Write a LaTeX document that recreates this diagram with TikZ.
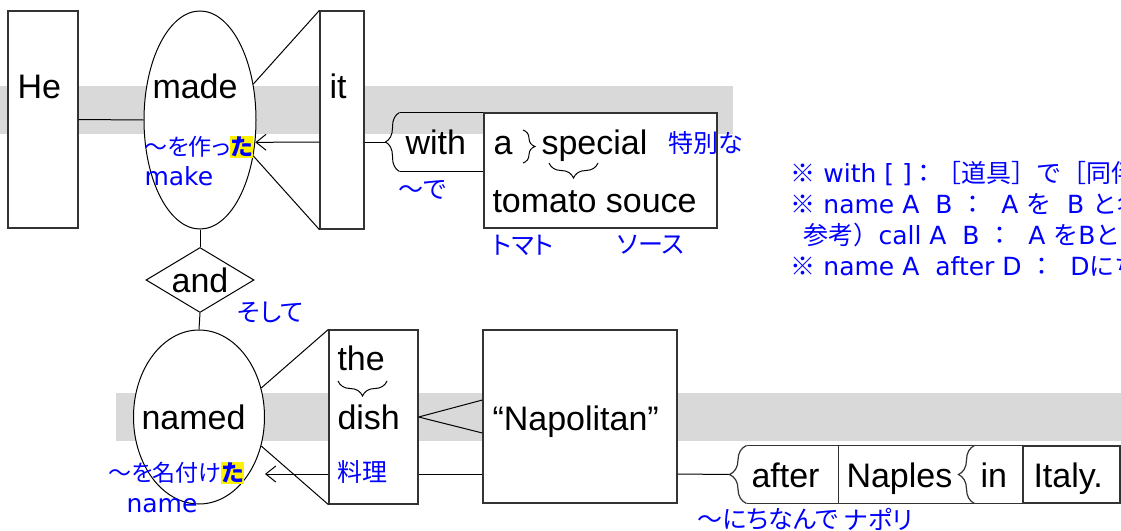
\documentclass[tikz,border=0pt]{standalone}
\usepackage{fontspec}
\setmainfont{Liberation Sans}
\newfontfamily\jafont{Noto Sans CJK JP}
\newfontfamily\japfont{Noto Sans CJK JP}[RawFeature=+palt]
\newfontfamily\lafont{DejaVu Sans}
\usetikzlibrary{shapes.geometric,decorations.pathreplacing,arrows.meta}
\newcommand\ja[1]{{\jafont #1}}
\newcommand\jap[1]{{\japfont #1}}
\newcommand\hlt[1]{{\setlength\fboxsep{0.5pt}\colorbox{yellow}{\bfseries #1}}}
\tikzset{
  box/.style={draw=black!80, fill=white, rectangle, inner sep=0, line width=1.2pt},
  oval/.style={draw, fill=white, ellipse, inner sep=0},
  word/.style={inner sep=0, anchor=base west, font=\fontsize{34}{40}\selectfont},
  gloss/.style={inner sep=0, anchor=west, text=blue, font=\fontsize{25}{30}\selectfont\lafont},
  note/.style={inner sep=0, anchor=base west, text=blue, font=\fontsize{25}{30}\selectfont\lafont},
  band/.style={fill=gray!30},
  curly/.style={decorate, decoration={brace, amplitude=#1}},
  barb/.style={-{Straight Barb[length=10pt,width=16pt]}}
}
\begin{document}
\begin{tikzpicture}[x=1pt,y=-1pt,line width=1pt]
 \clip (0,0) rectangle (1121,530);
 \fill[band] (0,86) rectangle (733,134);
 \fill[band] (116,393) rectangle (1121,441);

 % He made it with ...
 \node[box, minimum width=70pt, minimum height=217pt] (he) at (43,119.5) {};
 \node[word] (he-t) at (17,98) {He};
 \node[oval, minimum width=112pt, minimum height=218pt] (made) at (200,120) {};
 \node[word] (made-t) at (152,98) {made};
 \node[gloss, font=\fontsize{23}{28}\selectfont] (made-g) at (144,147) {\jap{～を作っ\hlt{た}}};
 \node[gloss, anchor=base west] (make-g) at (144,185) {make};
 \node[box, minimum width=44pt, minimum height=218pt] (it) at (342,120) {};
 \node[word] (it-t) at (329,98) {it};
 \draw (he.east) -- (made.west);
 \draw (it.north west) -- (made.34);
 \draw (it.south west) -- (made.-34);
 \draw[barb] ([yshift=-22pt]it.west) -- (made.-22);

 \node[rectangle, inner sep=0, minimum width=84pt, minimum height=58pt] (with) at (442,142) {};
 \draw ([yshift=-22pt]it.east) -- ([xshift=-14pt]with.west);
 \draw (with.north east) -- (with.north west) (with.south west) -- (with.south east);
 \draw[curly=14pt] (with.south west) -- (with.north west);
 \node[word] (with-t) at (405,154) {with};
 \node[gloss] (with-g) at (398,190) {\jap{～で}};

 \node[box, minimum width=233pt, minimum height=115pt] (sauce) at (600.5,170.5) {};
 \node[word] (a-t) at (493,154) {a};
 \draw[curly=12pt] (523,130) -- (523,163);
 \node[word] (special-t) at (541,154) {special};
 \draw[curly=15pt] (598,163) -- (549,163);
 \node[word] (tomato-t) at (492,212) {tomato souce};
 \node[gloss] (special-g) at (668,143) {\jap{特別な}};
 \node[gloss] (tomato-g) at (492,245) {\jap{トマト}};
 \node[gloss] (souce-g) at (617,245) {\jap{ソース}};

 % notes
 \node[note] (note1) at (790,182) {\ja{※} with [ ]\ja{：［道具］で［同伴}};
 \node[note] (note2) at (790,213) {\ja{※} name A\ \ B \ja{：}\ \ A \ja{を}\ \ B \ja{と名}};
 \node[note] (note3) at (803,244) {\ja{参考）}call A\ \ B \ja{：}\ \ A \ja{を}B\ja{と}};
 \node[note] (note4) at (790,275) {\ja{※} name A\ \ after D \ja{：}\ \ D\ja{にち}};

 % and named the dish ...
 \node[diamond, draw, fill=white, aspect=1.66, minimum width=108pt, minimum height=65pt, inner sep=0, font=\fontsize{34}{40}\selectfont] (and) at (200,280) {and};
 \node[gloss] (and-g) at (237,312) {\jap{そして}};
 \node[oval, minimum width=131pt, minimum height=174pt] (named) at (199,417) {};
 \draw (made.south) -- (and.north);
 \draw (and.south) -- (named.north);
 \node[word] (named-t) at (141,429) {named};
 \node[gloss, font=\fontsize{23}{28}\selectfont] (named-g) at (108,473) {\jap{～を名付け\hlt{た}}};
 \node[gloss, anchor=base west] (name-g) at (126,512) {name};

 \node[box, minimum width=89pt, minimum height=174pt] (dish) at (373.5,417) {};
 \node[word] (the-t) at (337,370) {the};
 \draw[curly=15pt] (387,381) -- (338,381);
 \node[word] (dish-t) at (337,429) {dish};
 \node[gloss] (dish-g) at (337,472) {\jap{料理}};
 \coordinate (named-in) at (265,474);
 \draw (dish.north west) -- (named.25);
 \draw (dish.south west) -- (named.-25);
 \draw[barb] ([yshift=-57pt]dish.west) -- (named-in);

 \node[box, minimum width=194pt, minimum height=173pt] (napol) at (580,416.5) {};
 \node[word] (napol-t) at (492,430) {“Napolitan”};
 \draw (dish.east) -- ([yshift=16.5pt]napol.west);
 \draw (dish.east) -- ([yshift=-16.5pt]napol.west);
 \draw ([yshift=-57pt]dish.east) -- ([yshift=-57.5pt]napol.west);

 % after Naples in Italy.
 \node[rectangle, inner sep=0, minimum width=91pt, minimum height=57pt] (after) at (792.5,474.5) {};
 \node[rectangle, inner sep=0, minimum width=137pt, minimum height=57pt] (naples) at (906.5,474.5) {};
 \node[rectangle, inner sep=0, minimum width=48pt, minimum height=57pt] (in) at (999,474.5) {};
 \node[box, minimum width=97pt, minimum height=57pt] (italy) at (1071.5,474.5) {};
 \draw ([yshift=-57.5pt]napol.east) -- ([xshift=-17pt]after.west);
 \draw[black!80, line width=1.2pt] (after.north west) -- (after.north east) -- (after.south east) -- (after.south west);
 \draw[curly=17pt, black!80, line width=1.2pt] (after.south west) -- (after.north west);
 \draw[black!80, line width=1.2pt] (naples.north west) -- (naples.north east) (naples.south west) -- (naples.south east);
 \draw[black!80, line width=1.2pt] (in.north west) -- (in.north east) -- (in.south east) -- (in.south west);
 \draw[curly=16pt, black!80, line width=1.2pt] (in.south west) -- (in.north west);
 \node[word] (after-t) at (751,487) {after};
 \node[word] (naples-t) at (846,487) {Naples};
 \node[word] (in-t) at (980,487) {in};
 \node[word] (italy-t) at (1033,487) {Italy.};
 \node[gloss] (after-g) at (697,519) {\jap{～にちなんで}};
 \node[gloss] (naples-g) at (844,519) {\jap{ナポリ}};
\end{tikzpicture}
\end{document}
